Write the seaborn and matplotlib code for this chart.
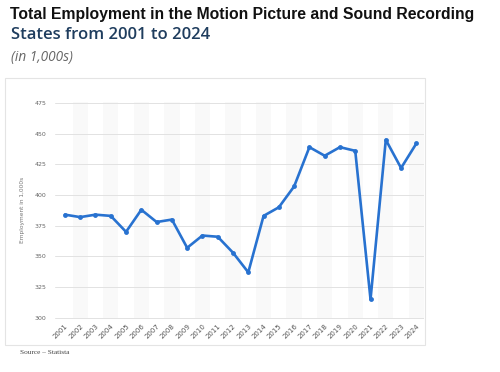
import pandas as pd
import matplotlib.pyplot as plt
import matplotlib.patches as mpatches
import seaborn as sns

# Data (in 1,000s)
years = [str(y) for y in range(2001, 2025)]
employment = [384, 382, 384, 383, 370, 388, 378, 380, 357, 367, 366, 353,
              337, 383, 390, 407, 439, 432, 439, 436, 315, 445, 422, 442]
y_ticks = [300, 325, 350, 375, 400, 425, 450, 475]

LINE_COLOR = "#2872d0"

sns.set_style("white")
plt.rcParams['font.family'] = ['DejaVu Sans']

df = pd.DataFrame({'Year': years, 'Employment': employment})
df['idx'] = range(len(df))

fig = plt.figure(figsize=(5.0, 3.72), dpi=100)
fig.patch.set_facecolor("white")

# card behind the chart
card = mpatches.Rectangle((0.01, 0.0726), 0.84, 0.718, transform=fig.transFigure,
                          facecolor="white", edgecolor="#e4e4e4", linewidth=0.8, zorder=-5)
fig.patches.append(card)

ax = fig.add_axes([0.11, 0.1425, 0.738, 0.584])
ax.set_facecolor("none")
ax.set_zorder(2)

# faint alternating column bands
for i in range(1, len(years), 2):
    ax.axvspan(i - 0.5, i + 0.5, color="#f9f9f9", zorder=0, lw=0)

for t in y_ticks:
    ax.axhline(t, color="#e2e2e2", lw=0.7, zorder=1)

sns.lineplot(data=df, x='idx', y='Employment', color=LINE_COLOR, linewidth=1.9,
             marker='o', markersize=3.5, markeredgewidth=0, ax=ax, zorder=3)

ax.set_xlim(-0.65, len(years) - 0.5)
ax.set_ylim(299, 476)
ax.set_yticks(y_ticks)
ax.set_yticklabels([str(t) for t in y_ticks], fontsize=4.5, color="#666666")
ax.set_xticks(df['idx'])
ax.set_xticklabels(years, rotation=45, ha='right', rotation_mode='anchor',
                   fontsize=5, color="#555555")
ax.tick_params(axis='both', length=0, pad=6)
ax.tick_params(axis='x', pad=3)
for s in ax.spines.values():
    s.set_visible(False)
ax.set_xlabel("")
ax.set_ylabel("Employment in 1,000s", fontsize=4.2, color="#777777", labelpad=7)

# titles
fig.text(0.02, 0.962, "Total Employment in the Motion Picture and Sound Recording",
         fontsize=11.3, fontweight='bold', color="#111111", family='Liberation Sans', va='center')
fig.text(0.022, 0.906, "States from 2001 to 2024",
         fontsize=12, color="#1f3d5e", family='Open Sans', fontweight='semibold', va='center')
fig.text(0.022, 0.845, "(in 1,000s)",
         fontsize=9.8, color="#666666", family='Open Sans', style='italic', va='center')
fig.text(0.04, 0.052, "Source \u2013 Statista",
         fontsize=5.2, color="#444444", family='Liberation Serif', va='center')

fig.savefig("out.png", dpi=100, facecolor="white")
